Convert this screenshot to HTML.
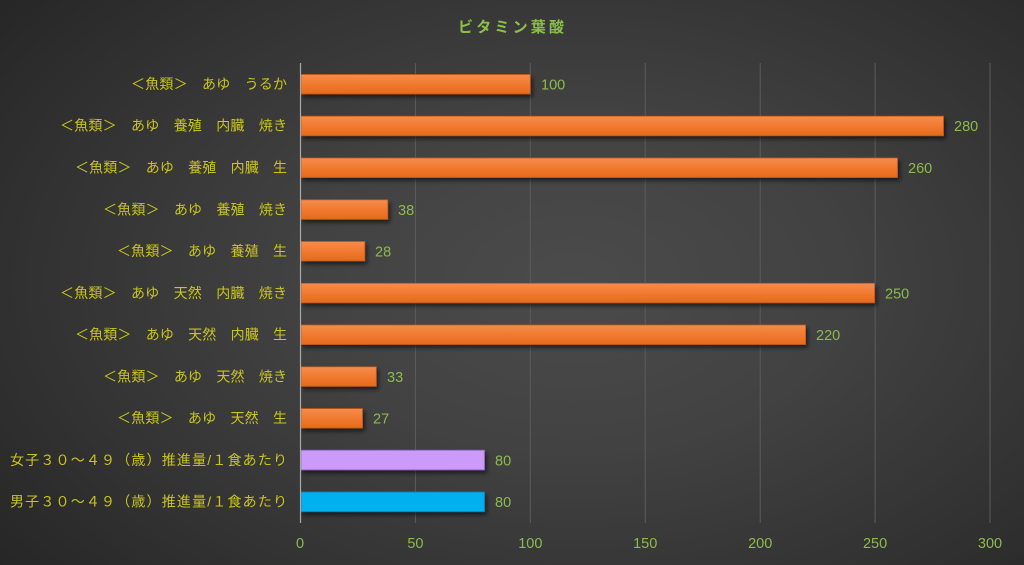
<!DOCTYPE html>
<html>
<head>
<meta charset="utf-8">
<style>
html,body{margin:0;padding:0;}
body{width:1024px;height:565px;overflow:hidden;
background:radial-gradient(ellipse 75% 85% at 56% 50%, #4b4b4b 0%, #424242 35%, #323232 70%, #242424 100%);}
svg{display:block;}
.cat{font-family:"Liberation Sans","Noto Sans CJK JP",sans-serif;font-size:14px;fill:#c9c51c;}
.val{font-family:"Liberation Sans","Noto Sans CJK JP",sans-serif;font-size:14.5px;fill:#8cba4e;}
.tick{font-family:"Liberation Sans","Noto Sans CJK JP",sans-serif;font-size:14.5px;fill:#8cba4e;}
.title{font-family:"Liberation Sans","Noto Sans CJK JP",sans-serif;font-size:15px;font-weight:bold;fill:#8cc044;}
</style>
</head>
<body>
<svg width="1024" height="565" viewBox="0 0 1024 565" xmlns="http://www.w3.org/2000/svg">
<defs>
<linearGradient id="og" x1="0" y1="0" x2="0" y2="1">
<stop offset="0" stop-color="#f58c4e"/>
<stop offset="0.5" stop-color="#f17a30"/>
<stop offset="1" stop-color="#e56a1c"/>
</linearGradient>
<filter id="sh" x="-5%" y="-30%" width="110%" height="180%">
<feDropShadow dx="2" dy="3" stdDeviation="2" flood-color="#000" flood-opacity="0.55"/>
</filter>
</defs>

<text class="title" x="458" y="32" textLength="106" lengthAdjust="spacing">ビタミン葉酸</text>

<!-- gridlines -->
<g stroke="#5c5c5c" stroke-width="1">
<line x1="415.4" y1="63" x2="415.4" y2="523"/>
<line x1="530.3" y1="63" x2="530.3" y2="523"/>
<line x1="645.2" y1="63" x2="645.2" y2="523"/>
<line x1="760.2" y1="63" x2="760.2" y2="523"/>
<line x1="875.1" y1="63" x2="875.1" y2="523"/>
<line x1="990" y1="63" x2="990" y2="523"/>
</g>

<!-- bars -->
<g filter="url(#sh)">
<rect x="301" y="74.5" width="229.3" height="19.5" fill="url(#og)" stroke="#c25a18" stroke-width="0.8"/>
<rect x="301" y="116.2" width="642.5" height="19.5" fill="url(#og)" stroke="#c25a18" stroke-width="0.8"/>
<rect x="301" y="158" width="596.5" height="19.5" fill="url(#og)" stroke="#c25a18" stroke-width="0.8"/>
<rect x="301" y="199.8" width="86.8" height="19.5" fill="url(#og)" stroke="#c25a18" stroke-width="0.8"/>
<rect x="301" y="241.5" width="63.8" height="19.5" fill="url(#og)" stroke="#c25a18" stroke-width="0.8"/>
<rect x="301" y="283.3" width="573.6" height="19.5" fill="url(#og)" stroke="#c25a18" stroke-width="0.8"/>
<rect x="301" y="325" width="504.6" height="19.5" fill="url(#og)" stroke="#c25a18" stroke-width="0.8"/>
<rect x="301" y="366.8" width="75.3" height="19.5" fill="url(#og)" stroke="#c25a18" stroke-width="0.8"/>
<rect x="301" y="408.6" width="61.5" height="19.5" fill="url(#og)" stroke="#c25a18" stroke-width="0.8"/>
<rect x="301" y="450.3" width="183.4" height="19.5" fill="#cc9afa" stroke="#9b6fd2" stroke-width="1"/>
<rect x="301" y="492.1" width="183.4" height="19.5" fill="#00b0ef" stroke="#0a88c0" stroke-width="1"/>
</g>

<!-- axis line -->
<line x1="300.5" y1="63" x2="300.5" y2="523" stroke="#a8a8a8" stroke-width="1.2"/>

<!-- value labels -->
<g class="val">
<text x="541" y="89.5">100</text>
<text x="954" y="131.2">280</text>
<text x="908" y="173">260</text>
<text x="398" y="214.8">38</text>
<text x="375" y="256.5">28</text>
<text x="885" y="298.3">250</text>
<text x="816" y="340">220</text>
<text x="387" y="381.8">33</text>
<text x="373" y="423.6">27</text>
<text x="495" y="465.3">80</text>
<text x="495" y="507.1">80</text>
</g>

<!-- category labels -->
<g class="cat">
<text x="131" y="89" textLength="156" lengthAdjust="spacing">＜魚類＞　あゆ　うるか</text>
<text x="60" y="130.7" textLength="227" lengthAdjust="spacing">＜魚類＞　あゆ　養殖　内臓　焼き</text>
<text x="75" y="172.5" textLength="212" lengthAdjust="spacing">＜魚類＞　あゆ　養殖　内臓　生</text>
<text x="103" y="214.3" textLength="184" lengthAdjust="spacing">＜魚類＞　あゆ　養殖　焼き</text>
<text x="117" y="256" textLength="170" lengthAdjust="spacing">＜魚類＞　あゆ　養殖　生</text>
<text x="60" y="297.8" textLength="227" lengthAdjust="spacing">＜魚類＞　あゆ　天然　内臓　焼き</text>
<text x="75" y="339.5" textLength="212" lengthAdjust="spacing">＜魚類＞　あゆ　天然　内臓　生</text>
<text x="103" y="381.3" textLength="184" lengthAdjust="spacing">＜魚類＞　あゆ　天然　焼き</text>
<text x="117" y="423.1" textLength="170" lengthAdjust="spacing">＜魚類＞　あゆ　天然　生</text>
<text x="10" y="464.8" textLength="277" lengthAdjust="spacing">女子３０～４９（歳）推進量/１食あたり</text>
<text x="10" y="506.6" textLength="277" lengthAdjust="spacing">男子３０～４９（歳）推進量/１食あたり</text>
</g>

<!-- tick labels -->
<g class="tick" text-anchor="middle">
<text x="300" y="548">0</text>
<text x="415.4" y="548">50</text>
<text x="530.3" y="548">100</text>
<text x="645.2" y="548">150</text>
<text x="760.2" y="548">200</text>
<text x="875.1" y="548">250</text>
<text x="990" y="548">300</text>
</g>
</svg>
</body>
</html>
